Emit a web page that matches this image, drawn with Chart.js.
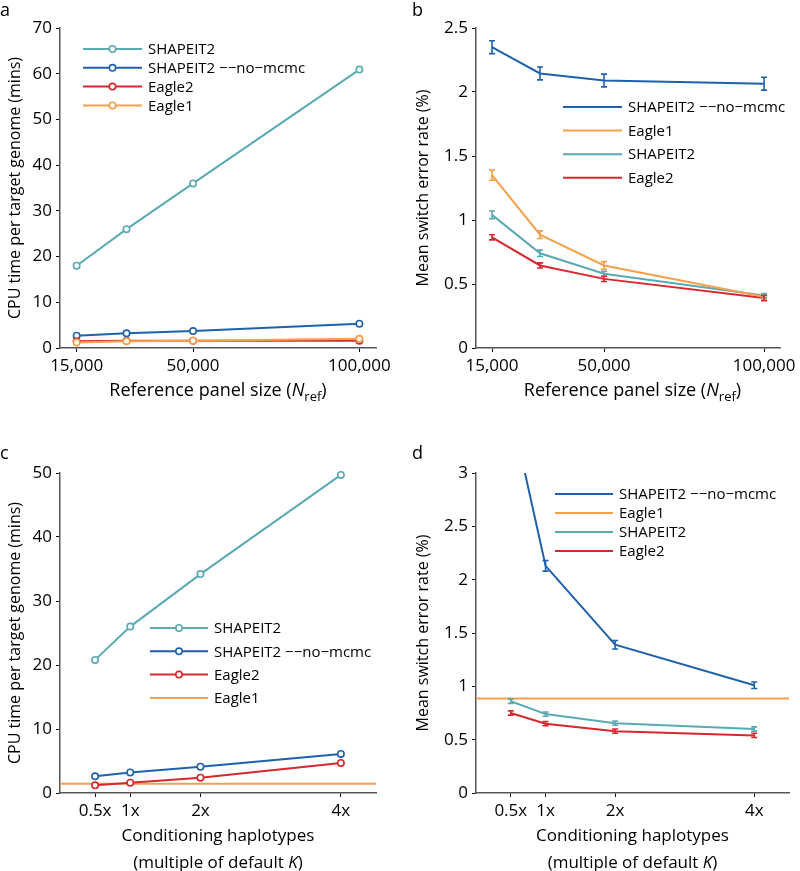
<!DOCTYPE html>
<html>
<head>
<meta charset="utf-8">
<script src="https://cdn.jsdelivr.net/npm/chart.js@4.4.0/dist/chart.umd.min.js"></script>
<style>
  body { margin: 0; background: #fff; font-family: "Open Sans", sans-serif; }
  #wrap { position: relative; width: 800px; height: 871px; }
  canvas { position: absolute; }
  .lbl { position: absolute; font-size: 18px; color: #000; line-height: 18px; }
  .xt { position: absolute; font-size: 17px; color: #000; text-align: center; line-height: 27px; white-space: nowrap; }
  .xt sub { font-size: 13px; line-height: 0; }
</style>
</head>
<body>
<div id="wrap">
  <canvas id="cA" width="400" height="420" style="left:0;top:0"></canvas>
  <canvas id="cB" width="400" height="420" style="left:400px;top:0"></canvas>
  <canvas id="cC" width="400" height="451" style="left:0;top:420px"></canvas>
  <canvas id="cD" width="400" height="451" style="left:400px;top:420px"></canvas>

  <div class="lbl" style="left:0;top:0">a</div>
  <div class="lbl" style="left:412px;top:0">b</div>
  <div class="lbl" style="left:0;top:443px">c</div>
  <div class="lbl" style="left:412px;top:443px">d</div>

  <div class="xt" style="left:60px;width:316px;top:376px;font-size:18px">Reference panel size (<i>N</i><sub>ref</sub>)</div>
  <div class="xt" style="left:476px;width:313px;top:376px;font-size:18px">Reference panel size (<i>N</i><sub>ref</sub>)</div>
  <div class="xt" style="left:60px;width:316px;top:821px">Conditioning haplotypes<br>(multiple of default <i>K</i>)</div>
  <div class="xt" style="left:476px;width:313px;top:821px">Conditioning haplotypes<br>(multiple of default <i>K</i>)</div>
</div>
<script>
// 数据：参考面板大小
var refSizes = [15000, 30000, 50000, 100000];
var refTicks = [15000, 50000, 100000];
var refTickLabels = ["15,000", "50,000", "100,000"];

// a: CPU时间 (mins)
var timeShapeit2 = [18, 26, 36, 60.9];
var timeNoMcmc = [2.7, 3.2, 3.7, 5.3];
var timeEagle2 = [1.5, 1.6, 1.6, 1.6];
var timeEagle1 = [1.2, 1.5, 1.6, 2.0];

// b: switch error (%) 和误差
var errNoMcmc = [2.35, 2.145, 2.09, 2.065];
var errNoMcmcSd = [0.05, 0.05, 0.05, 0.05];
var errEagle1 = [1.35, 0.885, 0.645, 0.40];
var errEagle1Sd = [0.04, 0.03, 0.03, 0.015];
var errShapeit2 = [1.04, 0.74, 0.58, 0.41];
var errShapeit2Sd = [0.03, 0.025, 0.02, 0.015];
var errEagle2 = [0.865, 0.645, 0.54, 0.39];
var errEagle2Sd = [0.02, 0.02, 0.02, 0.02];

// 条件单倍型倍数
var kMult = [0.5, 1, 2, 4];
var kTicks = [0.5, 1, 2, 4];
var kTickLabels = ["0.5x", "1x", "2x", "4x"];
var kMin = 0, kMax = 4.5;

// c: CPU时间
var kTimeShapeit2 = [20.8, 26, 34.2, 49.7];
var kTimeNoMcmc = [2.6, 3.2, 4.1, 6.1];
var kTimeEagle2 = [1.2, 1.6, 2.4, 4.7];
var kTimeEagle1 = 1.45;

// d: switch error
var kErrNoMcmc = [3.6, 2.13, 1.39, 1.01];
var kErrNoMcmcSd = [0.04, 0.05, 0.04, 0.03];
var kErrShapeit2 = [0.86, 0.74, 0.655, 0.60];
var kErrShapeit2Sd = [0.02, 0.02, 0.02, 0.02];
var kErrEagle2 = [0.75, 0.65, 0.58, 0.54];
var kErrEagle2Sd = [0.02, 0.02, 0.02, 0.02];
var kErrEagle1 = 0.885;

var C_SHAPEIT2 = "#5ba9b3";
var C_NOMCMC = "#1f62ab";
var C_EAGLE2 = "#d7282d";
var C_EAGLE1 = "#f5a04b";
var NOMCMC_LABEL = "SHAPEIT2 \u2212\u2212no\u2212mcmc";
var FONT = "'Open Sans', sans-serif";

function pts(xs, ys) {
    return xs.map(function (x, i) { return { x: x, y: ys[i] }; });
}

// 误差棒插件
var errorBars = {
    id: "errorBars",
    afterDatasetsDraw: function (chart) {
        var ctx = chart.ctx, a = chart.chartArea, ys = chart.scales.y;
        ctx.save();
        ctx.beginPath();
        ctx.rect(a.left, a.top - 1, a.right - a.left, a.bottom - a.top + 1);
        ctx.clip();
        chart.data.datasets.forEach(function (ds, di) {
            if (!ds.errors) return;
            var meta = chart.getDatasetMeta(di);
            ctx.strokeStyle = ds.borderColor;
            ctx.lineWidth = 1.6;
            meta.data.forEach(function (p, i) {
                var v = ds.data[i].y, e = ds.errors[i];
                var t = ys.getPixelForValue(v + e), b = ys.getPixelForValue(v - e);
                ctx.beginPath();
                ctx.moveTo(p.x, t); ctx.lineTo(p.x, b);
                ctx.moveTo(p.x - 3, t); ctx.lineTo(p.x + 3, t);
                ctx.moveTo(p.x - 3, b); ctx.lineTo(p.x + 3, b);
                ctx.stroke();
            });
        });
        ctx.restore();
    }
};

// 图内图例插件
var insetLegend = {
    id: "insetLegend",
    afterDraw: function (chart, args, opts) {
        var ctx = chart.ctx;
        ctx.save();
        ctx.font = "15px " + FONT;
        ctx.textBaseline = "middle";
        opts.order.forEach(function (di, row) {
            var ds = chart.data.datasets[di];
            var y = opts.y + row * opts.gap;
            ctx.strokeStyle = ds.borderColor;
            ctx.lineWidth = 2;
            ctx.beginPath();
            ctx.moveTo(opts.x, y); ctx.lineTo(opts.x + opts.len, y);
            ctx.stroke();
            if (ds.pointRadius > 0) {
                ctx.beginPath();
                ctx.arc(opts.x + opts.len / 2, y, 3.2, 0, Math.PI * 2);
                ctx.fillStyle = "#fff";
                ctx.fill();
                ctx.lineWidth = 1.6;
                ctx.stroke();
            }
            ctx.fillStyle = "#000";
            ctx.fillText(ds.label, opts.x + opts.len + 6, y + 1);
        });
        ctx.restore();
    }
};

function lineDs(label, color, data, marker, extra) {
    var ds = {
        label: label, data: data, borderColor: color, backgroundColor: "#fff",
        borderWidth: 2, pointRadius: marker ? 3.2 : 0, pointBorderWidth: 1.6,
        pointBackgroundColor: "#fff", pointBorderColor: color, tension: 0
    };
    // 有标记点的线不裁剪，让顶部圆圈完整显示
    if (marker) ds.clip = false;
    for (var k in extra) ds[k] = extra[k];
    return ds;
}

function makeChart(id, datasets, cfg) {
    return new Chart(document.getElementById(id), {
        type: "line",
        data: { datasets: datasets },
        plugins: [errorBars, insetLegend],
        options: {
            responsive: false,
            animation: false,
            events: [],
            layout: { padding: { top: cfg.padTop, right: cfg.padRight, left: 0, bottom: 0 } },
            plugins: {
                legend: { display: false },
                tooltip: { enabled: false },
                insetLegend: cfg.legend
            },
            scales: {
                x: {
                    type: "linear",
                    min: cfg.xMin, max: cfg.xMax,
                    afterBuildTicks: function (s) {
                        s.ticks = cfg.xTicks.map(function (v) { return { value: v }; });
                    },
                    afterFit: function (s) { s.height = cfg.xHeight; },
                    ticks: {
                        autoSkip: false, maxRotation: 0, padding: 4, color: "#000",
                        font: { family: FONT, size: 17 },
                        callback: function (v) { return cfg.xLabels[cfg.xTicks.indexOf(v)]; }
                    },
                    grid: { drawOnChartArea: false, drawTicks: true, tickLength: 4, color: "#000", tickWidth: 1 },
                    border: { display: true, color: "#555", width: 1.5 }
                },
                y: {
                    min: 0, max: cfg.yMax,
                    afterFit: function (s) { s.width = cfg.yWidth; },
                    ticks: {
                        stepSize: cfg.yStep, padding: 4, color: "#000",
                        font: { family: FONT, size: 17 },
                        callback: function (v) { return String(v); }
                    },
                    grid: { drawOnChartArea: false, drawTicks: true, tickLength: 4, color: "#000", tickWidth: 1 },
                    border: { display: true, color: "#555", width: 1.5 },
                    title: {
                        display: true, text: cfg.yTitle, color: "#000",
                        font: { family: FONT, size: 16 }, padding: { top: cfg.titlePad, bottom: 0 }
                    }
                }
            }
        }
    });
}

// a
makeChart("cA", [
    lineDs("SHAPEIT2", C_SHAPEIT2, pts(refSizes, timeShapeit2), true, { order: 3 }),
    lineDs(NOMCMC_LABEL, C_NOMCMC, pts(refSizes, timeNoMcmc), true, { order: 2 }),
    lineDs("Eagle2", C_EAGLE2, pts(refSizes, timeEagle2), true, { order: 1 }),
    lineDs("Eagle1", C_EAGLE1, pts(refSizes, timeEagle1), true, { order: 0 })
], {
    padTop: 28, padRight: 24, yWidth: 60, xHeight: 72, xMin: 10000, xMax: 105000,
    xTicks: refTicks, xLabels: refTickLabels, yMax: 70, yStep: 10, titlePad: 6,
    yTitle: "CPU time per target genome (mins)",
    legend: { x: 83, y: 49, gap: 18.8, len: 59, order: [0, 1, 2, 3] }
});

// b
makeChart("cB", [
    lineDs(NOMCMC_LABEL, C_NOMCMC, pts(refSizes, errNoMcmc), false, { errors: errNoMcmcSd }),
    lineDs("Eagle1", C_EAGLE1, pts(refSizes, errEagle1), false, { errors: errEagle1Sd }),
    lineDs("SHAPEIT2", C_SHAPEIT2, pts(refSizes, errShapeit2), false, { errors: errShapeit2Sd }),
    lineDs("Eagle2", C_EAGLE2, pts(refSizes, errEagle2), false, { errors: errEagle2Sd })
], {
    padTop: 28, padRight: 11, yWidth: 76, xHeight: 72, xMin: 10000, xMax: 105000,
    xTicks: refTicks, xLabels: refTickLabels, yMax: 2.5, yStep: 0.5, titlePad: 14,
    yTitle: "Mean switch error rate (%)",
    legend: { x: 163, y: 107, gap: 23.6, len: 59, order: [0, 1, 2, 3] }
});

// c
makeChart("cC", [
    lineDs("SHAPEIT2", C_SHAPEIT2, pts(kMult, kTimeShapeit2), true),
    lineDs(NOMCMC_LABEL, C_NOMCMC, pts(kMult, kTimeNoMcmc), true),
    lineDs("Eagle2", C_EAGLE2, pts(kMult, kTimeEagle2), true),
    lineDs("Eagle1", C_EAGLE1, pts([kMin, kMax], [kTimeEagle1, kTimeEagle1]), false)
], {
    padTop: 53, padRight: 24, yWidth: 60, xHeight: 78, xMin: kMin, xMax: kMax,
    xTicks: kTicks, xLabels: kTickLabels, yMax: 50, yStep: 10, titlePad: 6,
    yTitle: "CPU time per target genome (mins)",
    legend: { x: 150, y: 208, gap: 23.3, len: 58, order: [0, 1, 2, 3] }
});

// d
makeChart("cD", [
    lineDs(NOMCMC_LABEL, C_NOMCMC, pts(kMult, kErrNoMcmc), false, { errors: kErrNoMcmcSd }),
    lineDs("Eagle1", C_EAGLE1, pts([kMin, kMax], [kErrEagle1, kErrEagle1]), false),
    lineDs("SHAPEIT2", C_SHAPEIT2, pts(kMult, kErrShapeit2), false, { errors: kErrShapeit2Sd }),
    lineDs("Eagle2", C_EAGLE2, pts(kMult, kErrEagle2), false, { errors: kErrEagle2Sd })
], {
    padTop: 53, padRight: 11, yWidth: 76, xHeight: 78, xMin: kMin, xMax: kMax,
    xTicks: kTicks, xLabels: kTickLabels, yMax: 3, yStep: 0.5, titlePad: 14,
    yTitle: "Mean switch error rate (%)",
    legend: { x: 155, y: 74, gap: 19, len: 58, order: [0, 1, 2, 3] }
});
</script>
</body>
</html>
